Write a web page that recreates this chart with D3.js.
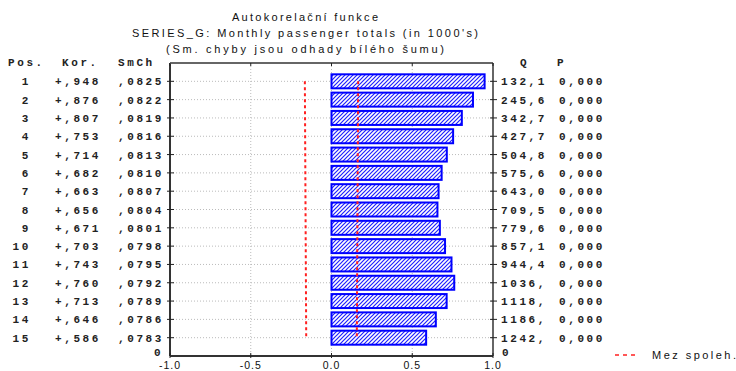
<!DOCTYPE html>
<html>
<head>
<meta charset="utf-8">
<script src="https://cdn.jsdelivr.net/npm/d3@7"></script>
<style>
  html, body { margin: 0; padding: 0; background: #fff; }
  svg { display: block; }
  .mono { font-family: "Liberation Mono", "DejaVu Sans Mono", monospace; font-weight: bold; font-size: 11px; letter-spacing: 2.6px; fill: #222; }
  .sans { font-family: "Liberation Sans", Arial, sans-serif; font-size: 11px; fill: #111; }
</style>
</head>
<body>
<svg id="chart" width="736" height="371"></svg>
<script>
// Autocorrelation function of SERIES_G, lags 1..15
const lags = [1, 2, 3, 4, 5, 6, 7, 8, 9, 10, 11, 12, 13, 14, 15];
const autocorr = [0.948, 0.876, 0.807, 0.753, 0.714, 0.682, 0.663, 0.656, 0.671, 0.703, 0.743, 0.760, 0.713, 0.646, 0.586];
const stdErr = [0.0825, 0.0822, 0.0819, 0.0816, 0.0813, 0.0810, 0.0807, 0.0804, 0.0801, 0.0798, 0.0795, 0.0792, 0.0789, 0.0786, 0.0783];
const qStat = [132.1, 245.6, 342.7, 427.7, 504.8, 575.6, 643.0, 709.5, 779.6, 857.1, 944.4, 1036, 1118, 1186, 1242];
const pValue = [0, 0, 0, 0, 0, 0, 0, 0, 0, 0, 0, 0, 0, 0, 0];
const xTicks = [-1.0, -0.5, 0.0, 0.5, 1.0];
const titles = [
  "Autokorelační funkce",
  "SERIES_G: Monthly passenger totals (in 1000's)",
  "(Sm. chyby jsou odhady bílého šumu)"
];
const legendLabel = "Mez spoleh.";

const svg = d3.select("#chart");
const plotL = 170, plotR = 493, plotT = 63, plotB = 356;

const x = d3.scaleLinear().domain([-1, 1]).range([plotL, plotR]);
const y = d3.scaleLinear().domain([0, 16]).range([plotT, plotB]);
const barH = 14;

// hatch pattern for bars
const defs = svg.append("defs");
const pat = defs.append("pattern")
  .attr("id", "hatch").attr("patternUnits", "userSpaceOnUse")
  .attr("width", 4).attr("height", 4);
pat.append("rect").attr("width", 4).attr("height", 4).attr("fill", "#fff");
pat.append("path").attr("d", "M-1,1 l2,-2 M0,4 l4,-4 M3,5 l2,-2")
  .attr("stroke", "#2020ff").attr("stroke-width", 1.2);

// titles
const tg = svg.append("g").attr("class", "sans").attr("text-anchor", "middle");
[[17, 146], [33, 346], [49, 278]].forEach(([ty, w], i) => {
  tg.append("text").attr("x", 305).attr("y", ty + 4)
    .attr("textLength", w).attr("lengthAdjust", "spacing").text(titles[i]);
});

// gridlines
const grid = svg.append("g").attr("stroke", "#bbb").attr("stroke-dasharray", "1,2").attr("stroke-width", 1);
lags.forEach(k => {
  grid.append("line").attr("x1", plotL).attr("x2", plotR).attr("y1", y(k)).attr("y2", y(k));
});
xTicks.slice(1, -1).forEach(v => {
  grid.append("line").attr("x1", x(v)).attr("x2", x(v)).attr("y1", plotT).attr("y2", plotB);
});

// bars
svg.append("g").selectAll("rect").data(lags).join("rect")
  .attr("x", (k, i) => Math.min(x(0), x(autocorr[i])))
  .attr("y", k => y(k) - barH / 2)
  .attr("width", (k, i) => Math.abs(x(autocorr[i]) - x(0)))
  .attr("height", barH)
  .attr("fill", "url(#hatch)")
  .attr("stroke", "#0000ff").attr("stroke-width", 2);

// confidence limits (+/- 2 SE)
const limLine = d3.line().x(d => d[0]).y(d => d[1]);
[1, -1].forEach(s => {
  svg.append("path")
    .attr("d", limLine(lags.map((k, i) => [x(s * 2 * stdErr[i]), y(k)])))
    .attr("fill", "none").attr("stroke", "#ff2020").attr("stroke-width", 2)
    .attr("stroke-dasharray", "3,3");
});

// frame
const frame = svg.append("g").attr("stroke", "#333").attr("fill", "none");
frame.append("line").attr("x1", plotL).attr("x2", plotL).attr("y1", plotT).attr("y2", plotB).attr("stroke-width", 2);
frame.append("line").attr("x1", plotL).attr("x2", plotR).attr("y1", plotB).attr("y2", plotB).attr("stroke-width", 2);
frame.append("line").attr("x1", plotL).attr("x2", plotR).attr("y1", plotT).attr("y2", plotT).attr("stroke-width", 2).attr("stroke", "#666");
frame.append("line").attr("x1", plotR).attr("x2", plotR).attr("y1", plotT).attr("y2", plotB).attr("stroke-width", 1.5);

// axis ticks
const ticks = svg.append("g").attr("stroke", "#222").attr("stroke-width", 1);
lags.forEach(k => {
  ticks.append("line").attr("x1", plotL - 3).attr("x2", plotL + 4).attr("y1", y(k)).attr("y2", y(k));
  ticks.append("line").attr("x1", plotR - 3).attr("x2", plotR + 4).attr("y1", y(k)).attr("y2", y(k));
});
xTicks.forEach(v => {
  ticks.append("line").attr("x1", x(v)).attr("x2", x(v)).attr("y1", plotB - 3).attr("y2", plotB + 2);
  ticks.append("line").attr("x1", x(v)).attr("x2", x(v)).attr("y1", plotT).attr("y2", plotT + 3);
});

// x tick labels
svg.append("g").attr("class", "sans").attr("text-anchor", "middle")
  .selectAll("text").data(xTicks).join("text")
  .attr("x", d => x(d)).attr("y", 368.5)
  .attr("font-size", 10.5).attr("letter-spacing", "1px")
  .text(d => d.toFixed(1));

// table to the left and right of the plot
const fmtKor = v => (v >= 0 ? "+" : "-") + Math.abs(v).toFixed(3).replace(/^0\./, ",");
const fmtSe = v => v.toFixed(4).replace(/^0\./, ",");
const fmtQ = v => v.toFixed(1).replace(".", ",").slice(0, 5);
const fmtP = v => v.toFixed(3).replace(".", ",");

const tbl = svg.append("g").attr("class", "mono");
tbl.append("text").attr("x", 8).attr("y", y(0) + 3).text("Pos.");
tbl.append("text").attr("x", 62).attr("y", y(0) + 3).text("Kor.");
tbl.append("text").attr("x", 118).attr("y", y(0) + 3).text("SmCh");
tbl.append("text").attr("x", 520).attr("y", y(0) + 3).text("Q");
tbl.append("text").attr("x", 557).attr("y", y(0) + 3).text("P");

lags.forEach((k, i) => {
  const ty = y(k) + 4;
  tbl.append("text").attr("x", 31).attr("y", ty).attr("text-anchor", "end").text(k);
  tbl.append("text").attr("x", 55).attr("y", ty).text(fmtKor(autocorr[i]));
  tbl.append("text").attr("x", 118).attr("y", ty).text(fmtSe(stdErr[i]));
  tbl.append("text").attr("x", 501).attr("y", ty).text(fmtQ(qStat[i]));
  tbl.append("text").attr("x", 559).attr("y", ty).text(fmtP(pValue[i]));
});
tbl.append("text").attr("x", 154).attr("y", plotB).text("0");
tbl.append("text").attr("x", 502).attr("y", plotB).text("0");

// legend
svg.append("line").attr("x1", 615).attr("x2", 639).attr("y1", 355).attr("y2", 355)
  .attr("stroke", "#ff2020").attr("stroke-width", 1.5).attr("stroke-dasharray", "4,4");
svg.append("text").attr("class", "sans").attr("x", 652).attr("y", 359)
  .attr("textLength", 84).attr("lengthAdjust", "spacing").text(legendLabel);
</script>
</body>
</html>
